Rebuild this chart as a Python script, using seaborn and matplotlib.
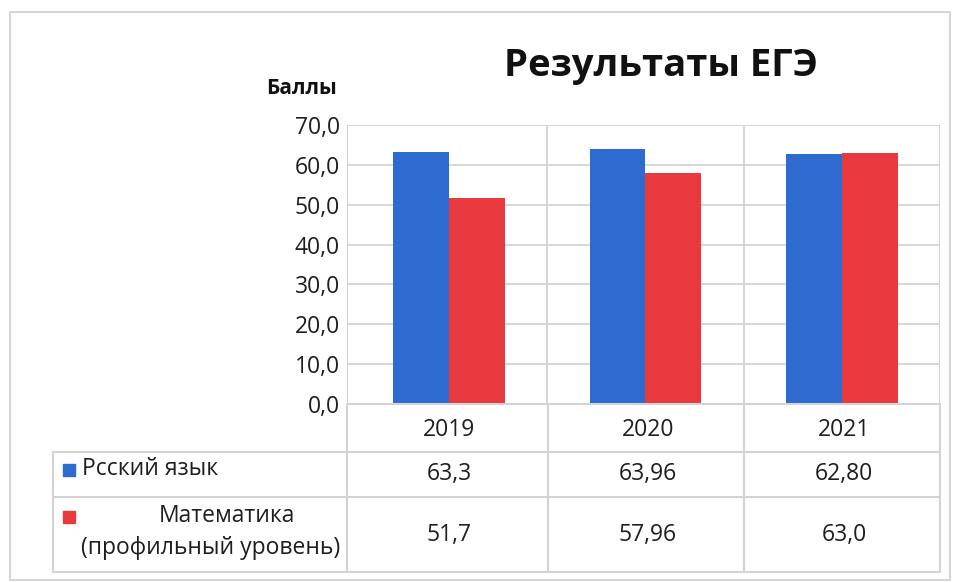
import matplotlib
matplotlib.use("Agg")
import matplotlib.pyplot as plt
import seaborn as sns
import pandas as pd
from matplotlib.patches import Rectangle
from matplotlib.lines import Line2D

years = ["2019", "2020", "2021"]
series_names = ["Рсский язык", "Математика\n(профильный уровень)"]
russian = [63.3, 63.96, 62.80]
math = [51.7, 57.96, 63.0]
russian_labels = ["63,3", "63,96", "62,80"]
math_labels = ["51,7", "57,96", "63,0"]
y_ticks = [0, 10, 20, 30, 40, 50, 60, 70]
y_tick_labels = ["0,0", "10,0", "20,0", "30,0", "40,0", "50,0", "60,0", "70,0"]
title = "Результаты ЕГЭ"
y_title = "Баллы"

colors = ["#2d6bd0", "#e8393f"]
grid_c = "#d3d3d3"
txt_c = "#1e1e1e"
FS = 16.5

sns.set_theme(style="white")
plt.rcParams['font.family'] = ['Open Sans', 'DejaVu Sans']

df = pd.DataFrame({
    "year": years * 2,
    "value": russian + math,
    "series": [series_names[0]] * 3 + [series_names[1]] * 3,
})

W, H = 960, 582
fig = plt.figure(figsize=(9.6, 5.82), dpi=100)

def fx(x):
    return x / W

def fy(y):
    return 1 - y / H

L, R, T, B = 347, 940, 125, 404
ax = fig.add_axes([fx(L), fy(B), fx(R) - fx(L), fy(T) - fy(B)])
sns.barplot(data=df, x="year", y="value", hue="series", palette=colors,
            width=0.57, saturation=1, ax=ax, legend=False, zorder=3,
            linewidth=0, edgecolor="none")
ax.set_xlim(-0.52, 2.5)
ax.set_ylim(0, 70)
ax.set_yticks(y_ticks)
ax.set_yticklabels(y_tick_labels, fontsize=FS, color=txt_c)
ax.tick_params(axis="y", length=0, pad=5)
ax.set_xticks([])
ax.set_xlabel("")
ax.set_ylabel("")
for v in y_ticks:
    ax.axhline(v, color=grid_c, lw=1.3, zorder=1)
for xv in [0.5, 1.5]:
    ax.axvline(xv, color=grid_c, lw=1.3, zorder=1)
for s in ax.spines.values():
    s.set_visible(False)
ax.axvline(-0.52, color=grid_c, lw=1.5, zorder=1)
ax.axvline(2.5, color=grid_c, lw=1.5, zorder=1)

# titles
fig.text(fx(661), fy(66), title, ha="center", va="center", fontsize=27.5,
         fontweight="bold", color="#111111")
fig.text(fx(301), fy(88), y_title, ha="center", va="center", fontsize=15,
         fontweight="bold", color="#111111")

# data table
col_edges = [347, 548, 744, 940]
row_year = (404, 452)
row_r = (452, 497)
row_m = (497, 572)
tab_left = 53

def hline(y, x0, x1):
    fig.add_artist(Line2D([fx(x0), fx(x1)], [fy(y), fy(y)], color=grid_c, lw=1.5))

def vline(x, y0, y1):
    fig.add_artist(Line2D([fx(x), fx(x)], [fy(y0), fy(y1)], color=grid_c, lw=1.5))

hline(row_year[0], col_edges[0], col_edges[-1])
hline(row_r[0], tab_left, col_edges[-1])
hline(row_m[0], tab_left, col_edges[-1])
hline(row_m[1], tab_left, col_edges[-1])
vline(tab_left, row_r[0], row_m[1])
for xe in col_edges:
    vline(xe, row_year[0], row_m[1])

txt_kw = dict(ha="center", va="center", fontsize=FS, color=txt_c)
for i, yr in enumerate(years):
    cx = (col_edges[i] + col_edges[i + 1]) / 2 + 2
    fig.text(fx(cx), fy(430), yr, **txt_kw)
    fig.text(fx(cx), fy(474), russian_labels[i], **txt_kw)
    fig.text(fx(cx), fy(535), math_labels[i], **txt_kw)

# legend keys and row labels
fig.add_artist(Rectangle((fx(63), fy(476)), fx(12), 12 / H, color=colors[0],
                         transform=fig.transFigure))
fig.add_artist(Rectangle((fx(63), fy(523)), fx(12), 12 / H, color=colors[1],
                         transform=fig.transFigure))
fig.text(fx(82), fy(469), series_names[0], ha="left", va="center",
         fontsize=FS, color=txt_c)
m1, m2 = series_names[1].split("\n")
fig.text(fx(227), fy(516), m1, ha="center", va="center", fontsize=FS, color=txt_c)
fig.text(fx(211), fy(548), m2, ha="center", va="center", fontsize=FS, color=txt_c)

# outer frame
fig.add_artist(Rectangle((fx(10), fy(580)), fx(940), 568 / H, fill=False,
                         edgecolor="#d6d6d6", lw=1.5, transform=fig.transFigure))

fig.savefig("out.png", dpi=100, facecolor="white")
